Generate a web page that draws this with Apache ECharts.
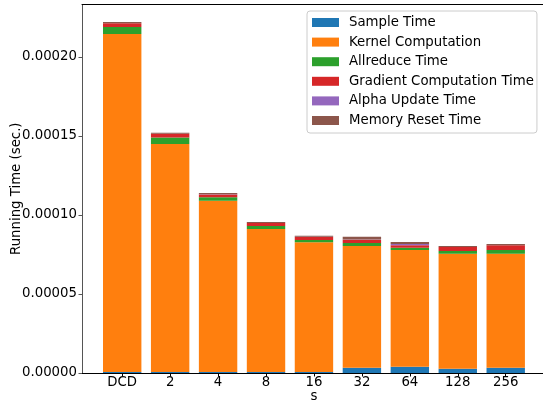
<!DOCTYPE html>
<html>
<head>
<meta charset="utf-8">
<script src="https://cdn.jsdelivr.net/npm/echarts@6/dist/echarts.min.js"></script>
<style>
  html, body { margin: 0; padding: 0; background: #fff; }
  #chart { width: 543px; height: 406px; }
</style>
</head>
<body>
<div id="chart"></div>
<script>
// Block size settings (s) on the x axis
const categories = ['DCD', '2', '4', '8', '16', '32', '64', '128', '256'];

// Per-phase running time in seconds, one entry per category
const sampleTime      = [0.6e-6, 0.6e-6, 0.6e-6, 0.6e-6, 0.6e-6, 3.4e-6, 4.0e-6, 2.7e-6, 3.4e-6];
const kernelTime      = [214.0e-6, 144.3e-6, 108.4e-6, 90.5e-6, 82.1e-6, 77.0e-6, 73.8e-6, 72.8e-6, 72.1e-6];
const allreduceTime   = [4.4e-6, 4.2e-6, 2.3e-6, 1.9e-6, 1.5e-6, 1.9e-6, 1.5e-6, 1.7e-6, 2.3e-6];
const gradientTime    = [2.3e-6, 2.3e-6, 1.7e-6, 1.9e-6, 1.9e-6, 2.1e-6, 1.5e-6, 2.5e-6, 3.0e-6];
const alphaTime       = [0.1e-6, 0.1e-6, 0.1e-6, 0.1e-6, 0.1e-6, 0.1e-6, 0.8e-6, 0.1e-6, 0.1e-6];
const memResetTime    = [0.8e-6, 0.5e-6, 0.8e-6, 0.6e-6, 0.6e-6, 1.7e-6, 1.3e-6, 0.6e-6, 0.8e-6];

const seriesNames = ['Sample Time', 'Kernel Computation', 'Allreduce Time',
                     'Gradient Computation Time', 'Alpha Update Time', 'Memory Reset Time'];
const seriesValues = [sampleTime, kernelTime, allreduceTime, gradientTime, alphaTime, memResetTime];
const seriesColors = ['#1f77b4', '#ff7f0e', '#2ca02c', '#d62728', '#9467bd', '#8c564b'];

// y tick labels
const yTicks = [0, 0.00005, 0.0001, 0.00015, 0.0002];

// top of the y range: 5% headroom above the tallest stack
const totals = categories.map((_, i) => seriesValues.reduce((s, arr) => s + arr[i], 0));
const yMax = Math.max(...totals) * 1.05;

const FONT = 'DejaVu Sans';
const chart = echarts.init(document.getElementById('chart'), null, { renderer: 'canvas' });

// Plot frame spans a little wider than the category bands
const PLOT_TOP = 4.4, PLOT_H = 368.6;
const BAND = 47.94;
const BAR_LEFT = 122.2 - BAND / 2;

chart.setOption({
  animation: false,
  backgroundColor: '#fff',
  textStyle: { fontFamily: FONT },
  grid: [
    // bars
    { left: BAR_LEFT, top: PLOT_TOP, width: BAND * categories.length, height: PLOT_H, outerBoundsMode: 'none' },
    // frame + y axis
    { left: 82, top: PLOT_TOP, width: 464, height: PLOT_H, outerBoundsMode: 'none' }
  ],
  legend: {
    orient: 'vertical',
    left: 307,
    top: 11,
    padding: [5, 3, 6, 5],
    itemWidth: 27,
    itemHeight: 9,
    itemGap: 6.6,
    icon: 'rect',
    borderColor: '#cccccc',
    borderWidth: 1,
    borderRadius: 3,
    backgroundColor: 'rgba(255,255,255,0.8)',
    data: seriesNames,
    textStyle: { fontFamily: FONT, fontSize: 13.3, color: '#000', padding: [0, 0, 0, 5], lineHeight: 13 }
  },
  xAxis: [{
    gridIndex: 0,
    type: 'category',
    data: categories,
    boundaryGap: true,
    axisLine: { show: false },
    axisTick: { show: true, alignWithLabel: true, length: 3.5, lineStyle: { color: '#000' } },
    axisLabel: { margin: 3, fontFamily: FONT, fontSize: 13.3, color: '#000' },
    splitLine: { show: false }
  }, {
    gridIndex: 1,
    type: 'value',
    min: 0, max: 1,
    position: 'bottom',
    name: 's',
    nameLocation: 'middle',
    nameGap: 17,
    nameMoveOverlap: false,
    nameTextStyle: { fontFamily: FONT, fontSize: 13.3, color: '#000' },
    splitLine: { show: false },
    axisLine: { show: true, onZero: false, lineStyle: { color: '#000', width: 1 } },
    axisTick: { show: false },
    axisLabel: { show: false }
  }, {
    gridIndex: 1,
    type: 'value',
    min: 0, max: 1,
    position: 'top',
    splitLine: { show: false },
    axisLine: { show: true, onZero: false, lineStyle: { color: '#000', width: 1 } },
    axisTick: { show: false },
    axisLabel: { show: false }
  }],
  yAxis: [{
    gridIndex: 0,
    type: 'value',
    min: 0,
    max: yMax,
    show: false
  }, {
    gridIndex: 1,
    type: 'value',
    min: 0,
    max: yMax,
    name: 'Running Time (sec.)',
    nameLocation: 'middle',
    nameGap: 59,
    nameMoveOverlap: false,
    nameTextStyle: { fontFamily: FONT, fontSize: 13.3, color: '#000' },
    splitLine: { show: false },
    axisLine: { show: true, lineStyle: { color: '#555', width: 1 } },
    axisTick: { show: true, length: 3.5, lineStyle: { color: '#555' }, customValues: yTicks },
    axisLabel: {
      customValues: yTicks,
      margin: 5,
      fontFamily: FONT, fontSize: 13.3, color: '#000',
      formatter: v => v.toFixed(5)
    }
  }],
  series: seriesNames.map((name, k) => ({
    name,
    type: 'bar',
    stack: 'total',
    xAxisIndex: 0,
    yAxisIndex: 0,
    barWidth: 38.4,
    itemStyle: { color: seriesColors[k] },
    data: seriesValues[k]
  }))
});
</script>
</body>
</html>
